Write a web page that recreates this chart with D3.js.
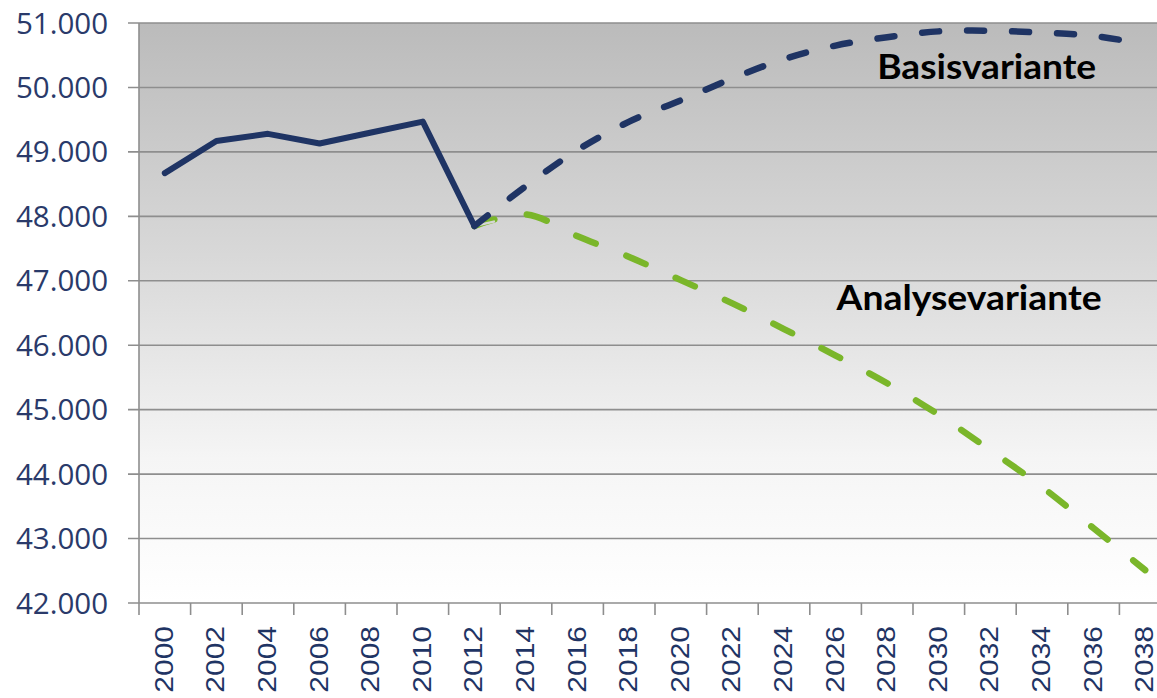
<!DOCTYPE html>
<html>
<head>
<meta charset="utf-8">
<script src="https://cdn.jsdelivr.net/npm/d3@7"></script>
<style>
  html, body { margin: 0; padding: 0; background: #ffffff; overflow: hidden; }
  svg { display: block; }
</style>
</head>
<body>
<svg id="chart" width="1157" height="698"></svg>
<script>
// ---- data ----
const categories = ["2000","2002","2004","2006","2008","2010","2012","2014","2016","2018",
                    "2020","2022","2024","2026","2028","2030","2032","2034","2036","2038"];
const yTicks = [42000, 43000, 44000, 45000, 46000, 47000, 48000, 49000, 50000, 51000];

const actualYears = ["2000","2002","2004","2006","2008","2010","2012"];
const actualValues = [48670, 49170, 49280, 49130, 49300, 49470, 47850];

const projYears = ["2012","2014","2016","2018","2020","2022","2024","2026","2028","2030","2032","2034","2036","2038"];
const basisValues = [47850, 48470, 49030, 49470, 49800, 50140, 50440, 50650, 50780, 50870, 50880, 50850, 50800, 50670];
const analyseValues = [47850, 48030, 47690, 47370, 47010, 46650, 46250, 45840, 45410, 44920, 44370, 43800, 43160, 42510];

const labelTexts = ["Basisvariante", "Analysevariante"];
const labelYears = ["2028", "2026"];
const labelValues = [50130, 46550];

// ---- layout ----
const svg = d3.select("#chart");
const plotL = 139, plotR = 1171, plotT = 23, plotB = 603;
const navy = "#1f3464";
const green = "#7ab62a";
const gridCol = "#8e8e8e";
const labelDx = [-10, 1];
const labelLen = [219, 265];

const x = d3.scaleBand().domain(categories).range([plotL, plotR]).padding(0);
const y = d3.scaleLinear().domain([42000, 51000]).range([plotB, plotT]);
const cx = c => x(c) + x.bandwidth() / 2;

// gradient background
const defs = svg.append("defs");
const grad = defs.append("linearGradient").attr("id", "bg").attr("x1", 0).attr("y1", 0).attr("x2", 0).attr("y2", 1);
grad.append("stop").attr("offset", "0").attr("stop-color", "#bbbbbb");
grad.append("stop").attr("offset", "0.4").attr("stop-color", "#d8d8d8");
grad.append("stop").attr("offset", "0.75").attr("stop-color", "#f5f5f5");
grad.append("stop").attr("offset", "1").attr("stop-color", "#ffffff");

svg.append("rect").attr("x", plotL).attr("y", plotT).attr("width", plotR - plotL).attr("height", plotB - plotT)
  .attr("fill", "url(#bg)");

// gridlines
svg.append("g").selectAll("line").data(yTicks).join("line")
  .attr("x1", plotL - 11).attr("x2", plotR)
  .attr("y1", d => y(d)).attr("y2", d => y(d))
  .attr("stroke", gridCol).attr("stroke-width", 1.6);

// y axis line
svg.append("line").attr("x1", plotL).attr("x2", plotL).attr("y1", plotT).attr("y2", plotB + 12)
  .attr("stroke", gridCol).attr("stroke-width", 1.6);

// x ticks at band boundaries
svg.append("g").selectAll("line").data(categories.slice(1)).join("line")
  .attr("x1", d => x(d)).attr("x2", d => x(d))
  .attr("y1", plotB).attr("y2", plotB + 12)
  .attr("stroke", gridCol).attr("stroke-width", 1.6);

// y labels
const fmt = d => d3.format(",")(d).replace(/,/g, ".");
svg.append("g").selectAll("text").data(yTicks).join("text")
  .attr("x", 108).attr("y", d => y(d) + 10.5)
  .attr("text-anchor", "end")
  .attr("font-family", "'Open Sans', sans-serif")
  .attr("font-size", 29.5)
  .attr("fill", "#2a3a6a")
  .text(fmt);

// x labels (rotated)
svg.append("g").selectAll("text").data(categories).join("text")
  .attr("transform", d => `translate(${cx(d)},626) rotate(-90) scale(1.2,1)`)
  .attr("x", 0).attr("y", 8)
  .attr("text-anchor", "end")
  .attr("font-family", "'Liberation Sans', Arial, sans-serif")
  .attr("font-size", 25)
  .attr("fill", navy)
  .text(d => d);

// lines
const line = d3.line().x(d => cx(d[0])).y(d => y(d[1]));
const smooth = d3.line().x(d => cx(d[0])).y(d => y(d[1])).curve(d3.curveCatmullRom.alpha(0.5));

svg.append("path")
  .datum(d3.zip(projYears, analyseValues))
  .attr("d", smooth)
  .attr("fill", "none").attr("stroke", green).attr("stroke-width", 6.5)
  .attr("stroke-linecap", "round").attr("stroke-dasharray", "21 33");

// hollow look of the first green dash
svg.append("path")
  .datum(d3.zip(projYears.slice(0, 2), analyseValues.slice(0, 2)))
  .attr("d", line)
  .attr("fill", "none").attr("stroke", "#d6d6d4").attr("stroke-width", 2.5)
  .attr("stroke-linecap", "round").attr("stroke-dasharray", "20 200");

svg.append("path")
  .datum(d3.zip(projYears, basisValues))
  .attr("d", smooth)
  .attr("fill", "none").attr("stroke", navy).attr("stroke-width", 6.5)
  .attr("stroke-linecap", "round").attr("stroke-dasharray", "17 28");

svg.append("path")
  .datum(d3.zip(actualYears, actualValues))
  .attr("d", line)
  .attr("fill", "none").attr("stroke", navy).attr("stroke-width", 6)
  .attr("stroke-linejoin", "round").attr("stroke-linecap", "round");

// annotation labels
svg.append("g").selectAll("text").data(labelTexts).join("text")
  .attr("x", (d, i) => cx(labelYears[i]) + labelDx[i])
  .attr("y", (d, i) => y(labelValues[i]))
  .attr("textLength", (d, i) => labelLen[i])
  .attr("lengthAdjust", "spacingAndGlyphs")
  .attr("font-family", "Lato, sans-serif")
  .attr("font-weight", "bold")
  .attr("font-size", 35)
  .attr("fill", "#000000")
  .text(d => d);
</script>
</body>
</html>
